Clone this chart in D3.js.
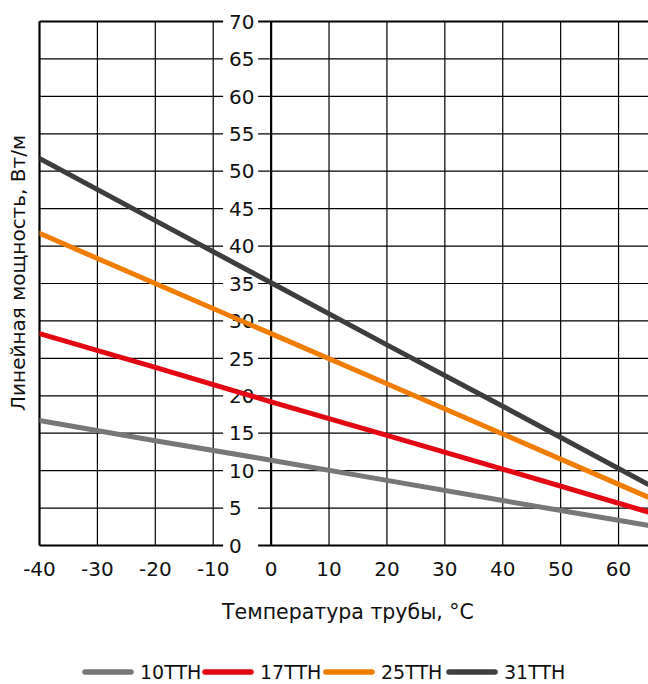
<!DOCTYPE html>
<html>
<head>
<meta charset="utf-8">
<script src="https://cdn.jsdelivr.net/npm/d3@7"></script>
<style>
  body { margin: 0; background: #fff; }
  svg { display: block; font-family: "DejaVu Sans", sans-serif; }
</style>
</head>
<body>
<div id="chart"></div>
<script>
// temperature points
const temps = [-40, -20, 0, 20, 40, 65];
const s10 = [16.7, 14.0, 11.4, 8.7, 6.0, 2.7];
const s17 = [28.3, 23.8, 19.2, 14.7, 10.2, 4.5];
const s25 = [41.7, 35.0, 28.3, 21.6, 14.9, 6.5];
const s31 = [51.7, 43.4, 35.1, 26.8, 18.6, 8.2];

const seriesNames = ["10TTH", "17TTH", "25TTH", "31TTH"];
const seriesColors = ["#777777", "#e30613", "#f07d00", "#3d3d3d"];
const seriesValues = [s10, s17, s25, s31];

const xTicks = [-40, -30, -20, -10, 0, 10, 20, 30, 40, 50, 60];
const yTicks = d3.range(0, 71, 5);

const W = 648, H = 684;
const margin = { top: 21.5, right: 0.5, bottom: 138.5, left: 39.5 };

const svg = d3.select("#chart").append("svg")
  .attr("width", W)
  .attr("height", H);

const x = d3.scaleLinear().domain([-40, 65]).range([margin.left, W - margin.right]);
const y = d3.scaleLinear().domain([0, 70]).range([H - margin.bottom, margin.top]);

const g = svg.append("g");

// grid
g.selectAll(".vgrid").data(xTicks.filter(d => d !== -40 && d !== 0)).join("line")
  .attr("x1", d => x(d)).attr("x2", d => x(d))
  .attr("y1", y(0)).attr("y2", y(70))
  .attr("stroke", "#000").attr("stroke-width", 1.2);

g.selectAll(".hgrid").data(yTicks.filter(d => d !== 0 && d !== 70)).join("line")
  .attr("x1", x(-40)).attr("x2", W)
  .attr("y1", d => y(d)).attr("y2", d => y(d))
  .attr("stroke", "#000").attr("stroke-width", 1.2);

// frame: left, top, bottom and the zero axis
const frame = [
  [x(-40), y(0), x(-40), y(70)],
  [x(-40), y(70), W, y(70)],
  [x(-40), y(0), W, y(0)],
  [x(0), y(0), x(0), y(70)]
];
g.selectAll(".frame").data(frame).join("line")
  .attr("x1", d => d[0]).attr("y1", d => d[1])
  .attr("x2", d => d[2]).attr("y2", d => d[3])
  .attr("stroke", "#000").attr("stroke-width", 2.2);

// y labels with white patch, sitting left of zero axis
const yl = g.selectAll(".ylab").data(yTicks).join("g")
  .attr("transform", d => "translate(" + (x(0) - 42) + "," + y(d) + ")");
yl.append("rect")
  .attr("x", -6).attr("y", -9).attr("width", 35).attr("height", 18)
  .attr("fill", "#fff");
yl.append("text")
  .attr("x", 0).attr("dy", "0.36em")
  .attr("font-size", 20).attr("fill", "#111")
  .text(d => d);

// x labels
g.selectAll(".xlab").data(xTicks).join("text")
  .attr("x", d => x(d)).attr("y", y(0) + 23)
  .attr("dy", "0.36em")
  .attr("text-anchor", "middle")
  .attr("font-size", 20).attr("fill", "#111")
  .text(d => d);

// lines
const line = d3.line()
  .x((d, i) => x(temps[i]))
  .y(d => y(d));

svg.append("clipPath").attr("id", "clip")
  .append("rect")
  .attr("x", x(-40)).attr("y", 0).attr("width", W).attr("height", H);

g.append("g").attr("clip-path", "url(#clip)")
  .selectAll("path").data(seriesValues).join("path")
  .attr("d", line)
  .attr("fill", "none")
  .attr("stroke", (d, i) => seriesColors[i])
  .attr("stroke-width", 5)
  .attr("stroke-linecap", "round");

// axis titles
svg.append("text")
  .attr("x", 348).attr("y", 612)
  .attr("dy", "0.36em")
  .attr("text-anchor", "middle")
  .attr("font-size", 20.5).attr("fill", "#111")
  .text("Температура трубы, °C");

svg.append("text")
  .attr("transform", "translate(18," + 273 + ") rotate(-90)")
  .attr("dy", "0.36em")
  .attr("text-anchor", "middle")
  .attr("font-size", 20).attr("fill", "#111")
  .text("Линейная мощность, Вт/м");

// legend
const legendX = [85, 205, 326, 449];
const lg = svg.selectAll(".legend").data(seriesNames).join("g")
  .attr("transform", (d, i) => "translate(" + legendX[i] + ",672)");
lg.append("line")
  .attr("x1", 0).attr("x2", 46)
  .attr("stroke", (d, i) => seriesColors[i])
  .attr("stroke-width", 5.5)
  .attr("stroke-linecap", "round");
lg.append("text")
  .attr("x", 55).attr("dy", "0.36em")
  .attr("font-size", 19).attr("fill", "#111")
  .text(d => d);
</script>
</body>
</html>
